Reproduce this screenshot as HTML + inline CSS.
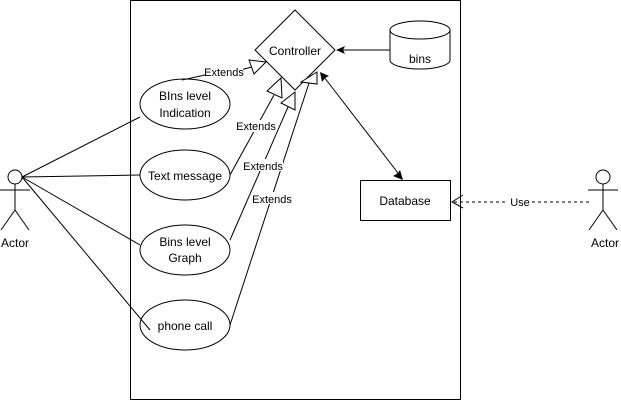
<!DOCTYPE html>
<html><head><meta charset="utf-8"><style>body{margin:0;background:#fff}svg{display:block}text{font-family:"Liberation Sans",Arial,sans-serif;fill:#000}</style></head>
<body><svg width="621" height="401" viewBox="0 0 621 401" xmlns="http://www.w3.org/2000/svg">
<rect x="0" y="0" width="621" height="401" fill="#fff"/>
<rect x="130.5" y="0.5" width="330" height="399" fill="none" stroke="#000"/>
<g stroke="#000" fill="none">
<polygon points="295,10 335,50 295,90 255,50" fill="#fff"/>
<path d="M390,30 v30 a30,9 0 0 0 60,0 v-30"/>
<ellipse cx="420" cy="30" rx="30" ry="9"/>
<rect x="360.5" y="180.5" width="90" height="40"/>
<ellipse cx="185" cy="104" rx="45" ry="25"/>
<ellipse cx="185" cy="175" rx="45" ry="25"/>
<ellipse cx="185" cy="250" rx="45" ry="25"/>
<ellipse cx="185" cy="325" rx="45" ry="25"/>
<line x1="22" y1="177" x2="140" y2="117"/>
<line x1="22" y1="177" x2="140" y2="175"/>
<line x1="22" y1="177" x2="140" y2="245"/>
<line x1="22" y1="177" x2="150" y2="330"/>
<circle cx="15" cy="177" r="7" fill="#fff"/>
<line x1="15" y1="184" x2="15" y2="210"/><line x1="0" y1="190" x2="30" y2="190"/>
<line x1="15" y1="210" x2="1" y2="230"/><line x1="15" y1="210" x2="29" y2="230"/>
<circle cx="603" cy="177" r="7" fill="#fff"/>
<line x1="603" y1="184" x2="603" y2="210"/><line x1="588" y1="190" x2="618" y2="190"/>
<line x1="603" y1="210" x2="589" y2="230"/><line x1="603" y1="210" x2="617" y2="230"/>
<polyline points="182,80 205,75"/><line x1="240" y1="70" x2="252" y2="67"/>
<polygon points="266,62 249,60 254,74" fill="#fff"/>
<line x1="230" y1="175" x2="274" y2="95"/>
<polygon points="281,78 267,91 282,98" fill="#fff"/>
<line x1="230" y1="240" x2="288" y2="107"/>
<polygon points="295,92 281,103 295,110" fill="#fff"/>
<line x1="230" y1="325" x2="309" y2="83"/>
<polygon points="317,72 301,82 317,84" fill="#fff"/>
<line x1="390" y1="50" x2="343" y2="50"/>
<line x1="324" y1="77" x2="398" y2="173"/>
<line x1="454" y1="202" x2="592" y2="202" stroke-dasharray="3,3"/>
<polyline points="463,195 452,202 463,208"/>
</g>
<polygon points="336,50 345,46 343,50 345,54" fill="#000"/>
<polygon points="320,72 329,76 325,78 322,82" fill="#000"/>
<polygon points="403,180 393,176 398,173 400,170" fill="#000"/>
<rect x="508" y="195" width="24" height="14" fill="#fff"/>
<g font-size="12" text-anchor="middle">
<text x="295" y="55">Controller</text>
<text x="420" y="63">bins</text>
<text x="405" y="205">Database</text>
<text x="185" y="100">BIns level</text>
<text x="185" y="117">Indication</text>
<text x="185" y="180">Text message</text>
<text x="185" y="246">Bins level</text>
<text x="185" y="262">Graph</text>
<text x="185" y="330">phone call</text>
<text x="15" y="247">Actor</text>
<text x="605" y="247">Actor</text>
</g>
<g font-size="11" text-anchor="middle">
<rect x="205" y="65" width="38" height="13" fill="#fff"/>
<text x="224" y="76">Extends</text>
<rect x="237" y="120" width="38" height="12" fill="#fff"/>
<text x="256" y="130">Extends</text>
<rect x="245" y="159" width="38" height="12" fill="#fff"/>
<text x="263" y="170">Extends</text>
<rect x="253" y="192" width="38" height="12" fill="#fff"/>
<text x="272" y="203">Extends</text>
<text x="520" y="206">Use</text>
</g>
</svg></body></html>
